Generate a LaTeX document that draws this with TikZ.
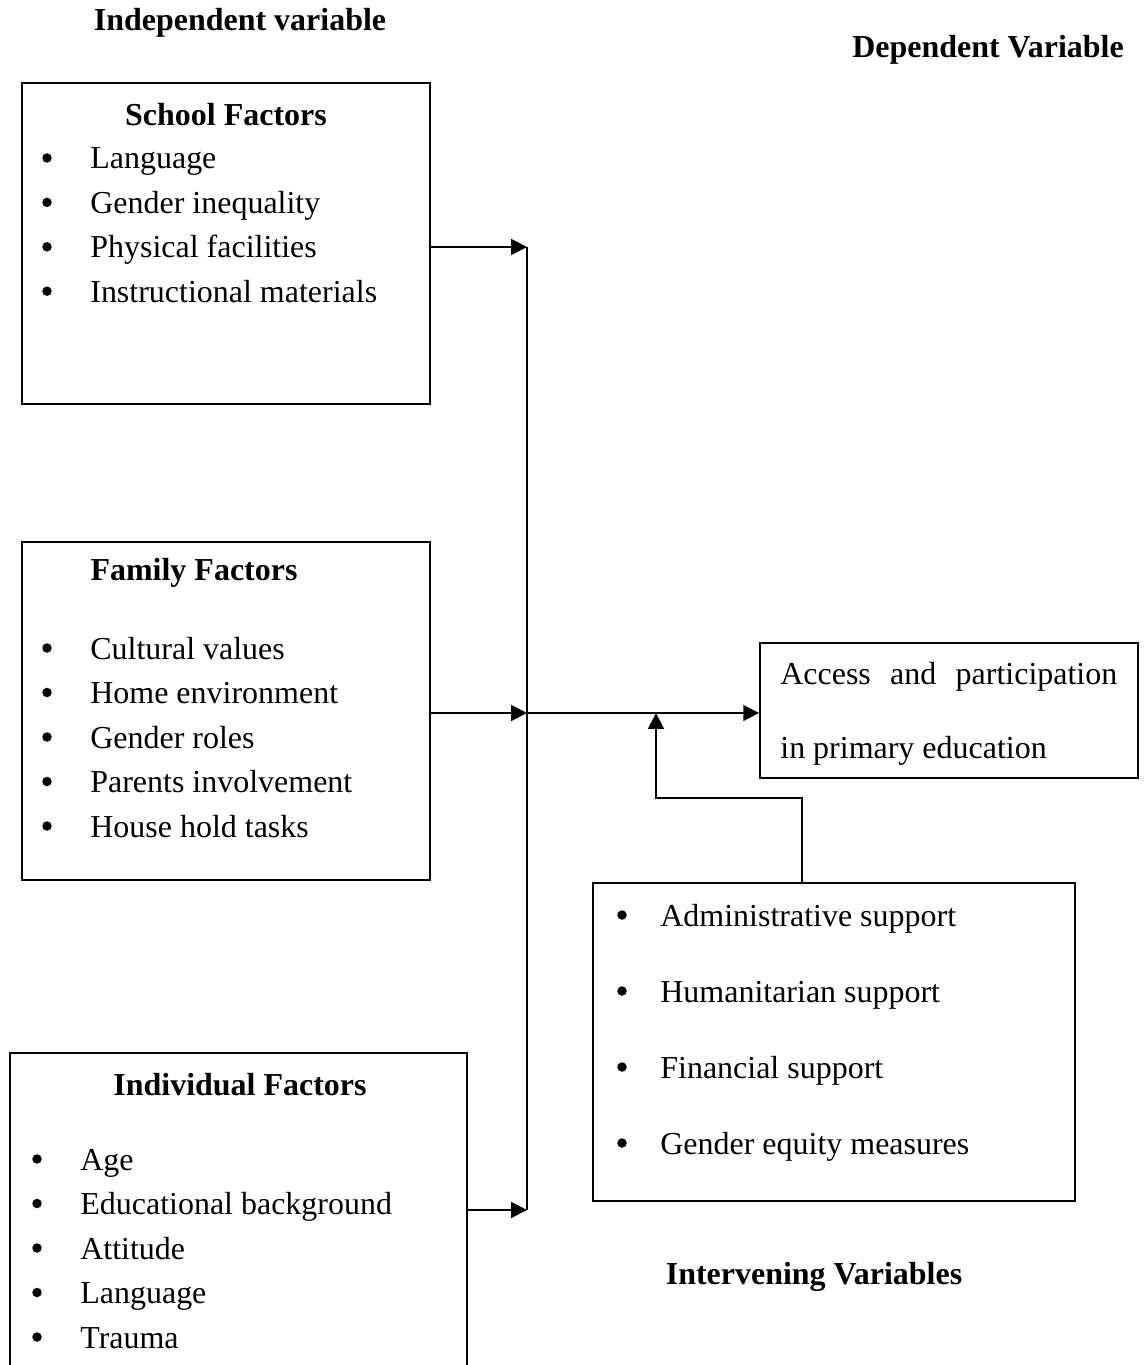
\documentclass[tikz,border=0pt]{standalone}
\usepackage{fontspec}
\setmainfont{Liberation Serif}
\usetikzlibrary{arrows.meta,positioning,calc}

\begin{document}
\begin{tikzpicture}[x=0.02cm, y=-0.02cm,
  box/.style={draw, line width=1.1pt, inner sep=0pt},
  head/.style={font=\fontsize{18.2}{22}\selectfont\bfseries, inner sep=0pt},
  item/.style={font=\fontsize{18.2}{22}\selectfont, anchor=base west, inner sep=0pt},
  dot/.style={circle, fill, inner sep=0pt, minimum size=0.19cm},
  arr/.style={-{Triangle[length=9pt, width=9pt]}, line width=1.1pt},
  line/.style={line width=1.1pt}
]
  \useasboundingbox (0,0) rectangle (1145,1365);

  % headings
  \node[head] (indep) at (240,23) {Independent variable};
  \node[head] (depl) at (988,50) {Dependent Variable};
  \node[head] (intl) at (814,1277) {Intervening Variables};

  % boxes
  \node[box, minimum width=8.16cm, minimum height=6.42cm] (school) at (226,243.5) {};
  \node[box, minimum width=8.16cm, minimum height=6.76cm] (family) at (226,711) {};
  \node[box, minimum width=9.14cm, minimum height=6.94cm] (indiv) at (238.5,1226.5) {};
  \node[box, minimum width=7.56cm, minimum height=2.7cm] (dep) at (949,710.5) {};
  \node[box, minimum width=9.64cm, minimum height=6.36cm] (inter) at (834,1042) {};

  % school factors
  \node[head] (schoolt) at (226,115) {School Factors};
  \foreach \t [count=\i] in {Language, Gender inequality, Physical facilities, Instructional materials} {
    \node[dot] at (47,{158+44.4*(\i-1)}) {};
    \node[item] at (90,{169+44.4*(\i-1)}) {\t};
  }

  % family factors
  \node[head] (familyt) at (194,573) {Family Factors};
  \foreach \t [count=\i] in {Cultural values, Home environment, Gender roles, Parents involvement, House hold tasks} {
    \node[dot] at (47,{648+44.5*(\i-1)}) {};
    \node[item] at (90,{659+44.5*(\i-1)}) {\t};
  }

  % individual factors
  \node[head] (indivt) at (240,1085) {Individual Factors};
  \foreach \t [count=\i] in {Age, Educational background, Attitude, Language, Trauma} {
    \node[dot] at (37,{1159+44.5*(\i-1)}) {};
    \node[item] at (80,{1170+44.5*(\i-1)}) {\t};
  }

  % dependent variable
  \node[item] (dep1) at (780,684) {\makebox[6.74cm][s]{Access\hfill and\hfill participation}};
  \node[item] (dep2) at (780,758) {in primary education};

  % intervening variables
  \foreach \t [count=\i] in {Administrative support, Humanitarian support, Financial support, Gender equity measures} {
    \node[dot] at (622,{915+76*(\i-1)}) {};
    \node[item] at (660,{926+76*(\i-1)}) {\t};
  }

  % connectors
  \coordinate (jt) at (527,247);
  \coordinate (jm) at (527,713);
  \coordinate (jb) at (527,1210);
  \coordinate (mod) at (656,713);
  \coordinate (bend) at (802,798);
  \draw[line] (jt) -- (jb);
  \draw[arr] (school.east |- jt) -- (jt);
  \draw[arr] (family.east |- jm) -- (jm);
  \draw[arr] (indiv.east |- jb) -- (jb);
  \draw[arr] (jm) -- (jm -| dep.west);
  \draw[arr] (inter.north -| bend) -- (bend) -| (mod);
\end{tikzpicture}
\end{document}
